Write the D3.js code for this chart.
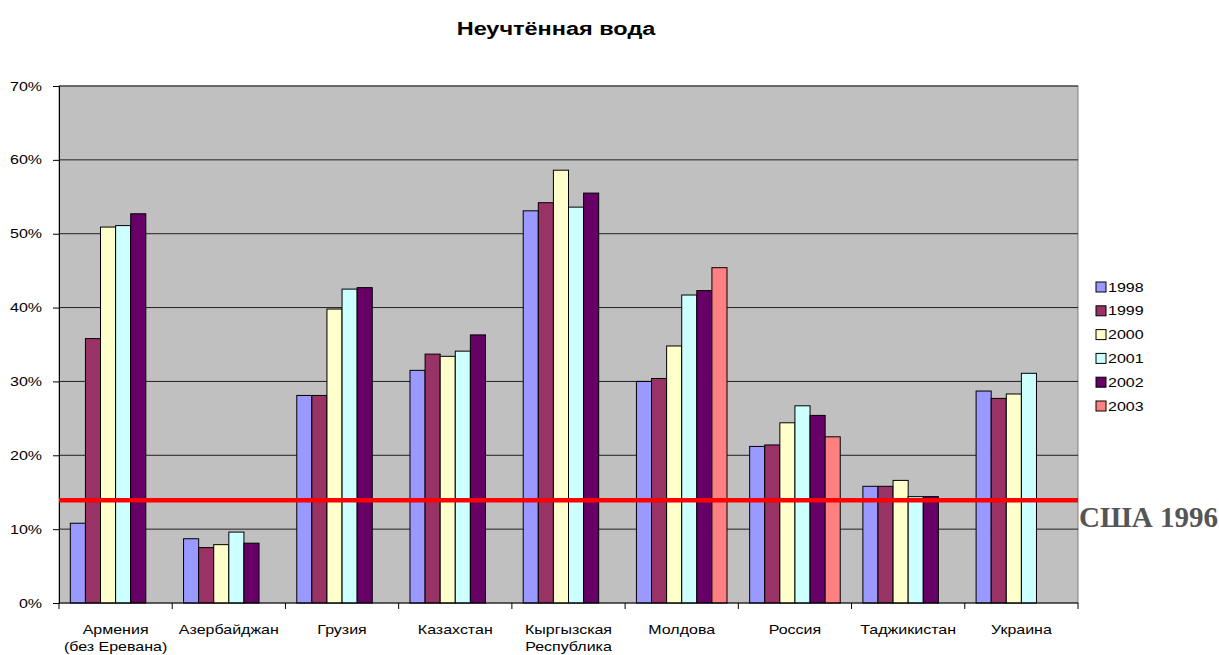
<!DOCTYPE html>
<html>
<head>
<meta charset="utf-8">
<script src="https://cdn.jsdelivr.net/npm/d3@7"></script>
<style>
  body { margin: 0; background: #fff; }
  svg { font-family: Arial, "Liberation Sans", sans-serif; }
</style>
</head>
<body>
<script>
const countries = ["Армения|(без Еревана)", "Азербайджан", "Грузия", "Казахстан", "Кыргызская|Республика", "Молдова", "Россия", "Таджикистан", "Украина"]
const years = ["1998", "1999", "2000", "2001", "2002", "2003"]
const colors = ["#9999ff", "#993366", "#ffffcc", "#ccffff", "#660066", "#ff8080"]
// values in %, null = no bar
const v1998 = [10.8, 8.7, 28.1, 31.5, 53.1, 30.0, 21.2, 15.8, 28.7]
const v1999 = [35.8, 7.5, 28.1, 33.7, 54.2, 30.4, 21.4, 15.8, 27.7]
const v2000 = [50.9, 7.9, 39.8, 33.4, 58.6, 34.8, 24.4, 16.6, 28.3]
const v2001 = [51.1, 9.6, 42.5, 34.1, 53.6, 41.7, 26.7, 14.4, 31.1]
const v2002 = [52.7, 8.1, 42.7, 36.3, 55.5, 42.3, 25.4, 14.4, null]
const v2003 = [null, null, null, null, null, 45.4, 22.5, null, null]
const series = [v1998, v1999, v2000, v2001, v2002, v2003]
const yTicks = [0, 10, 20, 30, 40, 50, 60, 70]
const usaValue = 13.9
const usaLabel = "США 1996"
const title = "Неучтённая вода"

const w = 1219
const h = 655
const pLeft = 59, pRight = 1078, pTop = 86, pBottom = 603
// the source picture is widened, text too
const stretch = 1.27

const svg = d3.select("body").append("svg")
  .attr("width", w)
  .attr("height", h)

const wideText = (parent, x, y, size, anchor) => parent.append("g")
  .attr("transform", "translate(" + x + "," + y + ") scale(" + stretch + ",1)")
  .append("text")
  .attr("font-size", size)
  .attr("text-anchor", anchor)

const yScale = d3.scaleLinear().domain([0, 70]).range([pBottom, pTop])
const xScale = d3.scaleBand().domain(countries).range([pLeft, pRight])
const barW = xScale.bandwidth() / 7.5
const sub = d3.scaleBand().domain(years).range([0.75 * barW, 0.75 * barW + 6 * barW])

wideText(svg, 556, 35, 18.5, "middle")
  .attr("font-weight", "bold")
  .text(title)

// plot area
svg.append("rect")
  .attr("x", pLeft)
  .attr("y", pTop)
  .attr("width", pRight - pLeft)
  .attr("height", pBottom - pTop)
  .attr("fill", "#c0c0c0")
  .attr("stroke", "#808080")
  .attr("stroke-width", 1)

svg.selectAll(".grid")
  .data(yTicks.filter(d => d > 0))
  .enter()
  .append("line")
  .attr("x1", pLeft)
  .attr("x2", pRight)
  .attr("y1", d => yScale(d))
  .attr("y2", d => yScale(d))
  .attr("stroke", "#202020")
  .attr("stroke-width", 1)

// bars
series.forEach((vals, i) => {
  svg.append("g")
    .selectAll("rect")
    .data(countries.map((c, j) => ({ c: c, v: vals[j] })).filter(d => d.v !== null))
    .enter()
    .append("rect")
    .attr("x", d => xScale(d.c) + sub(years[i]))
    .attr("y", d => yScale(d.v))
    .attr("width", barW)
    .attr("height", d => pBottom - yScale(d.v))
    .attr("fill", colors[i])
    .attr("stroke", "#000")
    .attr("stroke-width", 1)
})

// y axis
const yAxis = d3.axisLeft(yScale)
  .tickValues(yTicks)
  .tickSize(6)
  .tickFormat("")
const yg = svg.append("g")
  .attr("transform", "translate(" + pLeft + ",0)")
  .call(yAxis)
yg.select(".domain").attr("stroke", "#000")
yTicks.forEach(d => {
  wideText(svg, 42, yScale(d) + 4.5, 12.6, "end").text(d + "%")
})

// x axis line with ticks at category borders
svg.append("line")
  .attr("x1", pLeft).attr("x2", pRight)
  .attr("y1", pBottom).attr("y2", pBottom)
  .attr("stroke", "#000")
svg.selectAll(".xtick")
  .data(countries.map(c => xScale(c)).concat([pRight]))
  .enter()
  .append("line")
  .attr("x1", d => d).attr("x2", d => d)
  .attr("y1", pBottom).attr("y2", pBottom + 6)
  .attr("stroke", "#000")

countries.forEach(c => {
  const t = wideText(svg, xScale(c) + xScale.bandwidth() / 2, 634, 12.6, "middle")
  c.split("|").forEach((line, i) => {
    t.append("tspan")
      .attr("x", 0)
      .attr("dy", i === 0 ? 0 : 17.5)
      .text(line)
  })
})

// US reference line
svg.append("line")
  .attr("x1", pLeft).attr("x2", pRight)
  .attr("y1", yScale(usaValue)).attr("y2", yScale(usaValue))
  .attr("stroke", "#ff0000")
  .attr("stroke-width", 4.5)
svg.append("text")
  .attr("x", 1079)
  .attr("y", 527)
  .attr("font-family", "'Liberation Serif', 'Times New Roman', serif")
  .attr("font-weight", "bold")
  .attr("font-size", 29)
  .attr("fill", "#555555")
  .text(usaLabel)

// legend
const lg = svg.append("g").attr("transform", "translate(1096,287)")
years.forEach((y, i) => {
  lg.append("rect")
    .attr("x", 0)
    .attr("y", i * 23.8 - 5)
    .attr("width", 10)
    .attr("height", 10)
    .attr("fill", colors[i])
    .attr("stroke", "#000")
  wideText(lg, 12, i * 23.8 + 4.5, 12.6, "start").text(y)
})
</script>
</body>
</html>
